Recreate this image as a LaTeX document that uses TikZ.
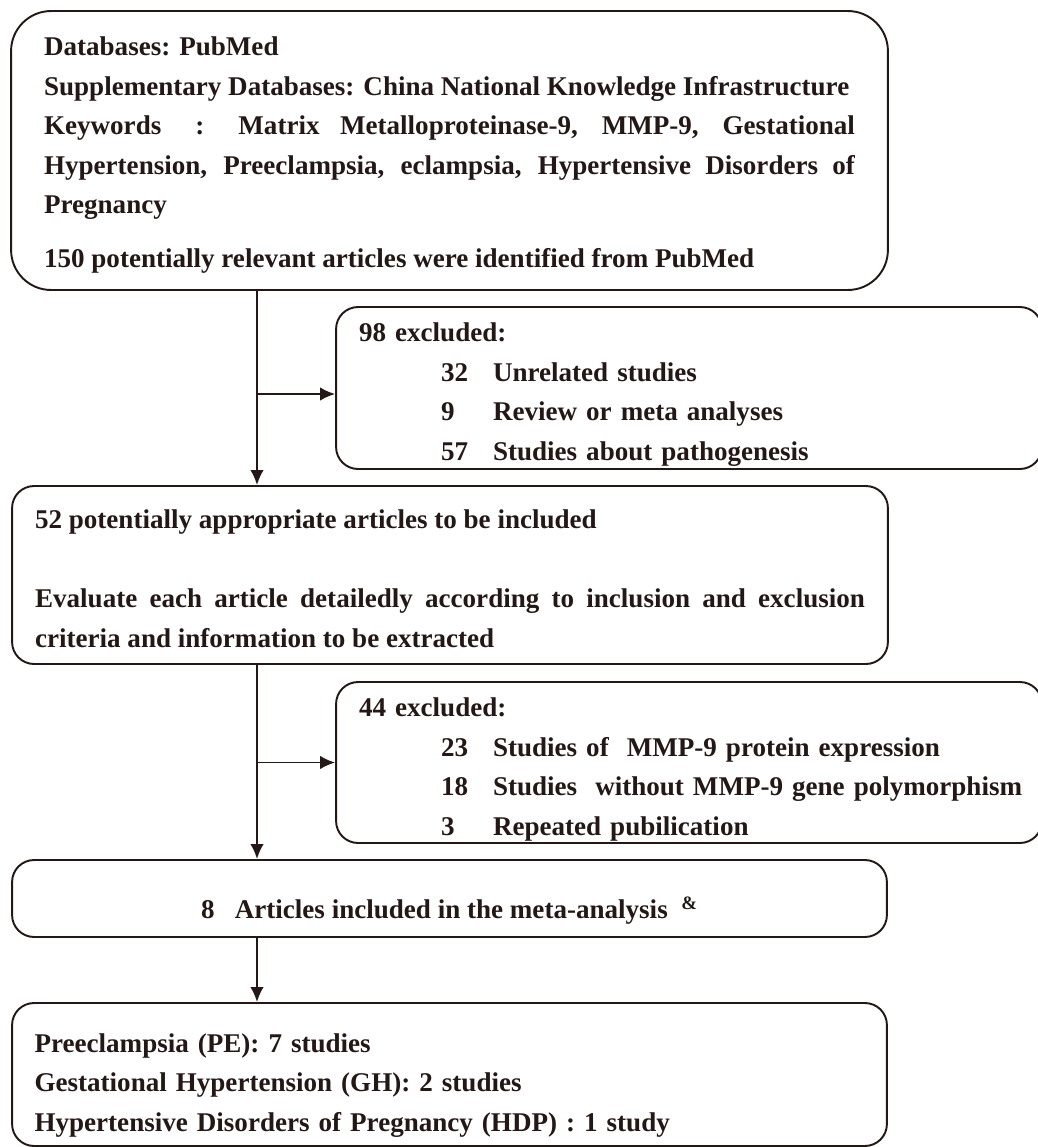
\documentclass[tikz,border=0pt]{standalone}
\usepackage{fontspec}
\setmainfont{Liberation Serif}
\usepackage{xcolor}
\usetikzlibrary{arrows.meta}
\definecolor{inkdark}{HTML}{231815}
\newcommand{\exitem}[2]{\hspace*{1.64cm}\makebox[1.04cm][l]{#1}\mbox{#2}}

\begin{document}
\begin{tikzpicture}[x=0.02cm, y=-0.02cm,
    every node/.style={font=\fontsize{15.4}{22.5}\selectfont\bfseries, text=inkdark},
    flowbox/.style={draw=inkdark, line width=1.1pt, rounded corners=0.44cm, inner sep=0pt},
    textdrop/.style={execute at begin node={\rule{0pt}{#1}}},
    arr/.style={draw=inkdark, line width=1.1pt, -{Latex[length=0.3cm,width=0.27cm]}}]
  \useasboundingbox (0,0) rectangle (1038,1147);

  % search strategy
  \node[flowbox, rounded corners=0.8cm, minimum width=17.54cm, minimum height=5.58cm,
        text width=16.22cm, align=justify, textdrop=16.1pt] (search) at (449.5,150.5)
    {Databases: PubMed\\
     Supplementary Databases: China National Knowledge Infrastructure\\
     Keywords~\enspace:~\enspace Matrix Metalloproteinase-9, MMP-9, Gestational\linebreak
     Hypertension, Preeclampsia, eclampsia, Hypertensive Disorders of\linebreak
     Pregnancy\\[8pt]
     150 potentially relevant articles were identified from PubMed};

  % first exclusion
  \node[flowbox, minimum width=14.12cm, minimum height=3.24cm,
        text width=13.2cm, align=left, textdrop=18.4pt] (exclA) at (689,388)
    {98 excluded:\\
     \exitem{32}{Unrelated studies}\\
     \exitem{9}{Review or meta analyses}\\
     \exitem{57}{Studies about pathogenesis}};

  % full-text screening
  \node[flowbox, minimum width=17.52cm, minimum height=3.56cm,
        text width=16.6cm, align=justify, textdrop=15pt] (screen) at (450,575)
    {52 potentially appropriate articles to be included\\[22.5pt]
     Evaluate each article detailedly according to inclusion and exclusion\linebreak
     criteria and information to be extracted};

  % second exclusion
  \node[flowbox, minimum width=14.12cm, minimum height=3.22cm,
        text width=13.2cm, align=left, textdrop=18.4pt] (exclB) at (689,762.5)
    {44 excluded:\\
     \exitem{23}{Studies of~~MMP-9 protein expression}\\
     \exitem{18}{Studies~~without MMP-9 gene polymorphism}\\
     \exitem{3}{Repeated pubilication}};

  \node[flowbox, minimum width=17.5cm, minimum height=1.54cm, align=center,
        textdrop=26pt] (included) at (449.5,898.5)
    {8\enspace~Articles included in the meta-analysis~~\textsuperscript{\&}};

  \node[flowbox, minimum width=17.5cm, minimum height=2.86cm,
        text width=16.6cm, align=left, textdrop=22.8pt] (subgroups) at (449.5,1074.5)
    {Preeclampsia (PE): 7 studies\\
     Gestational Hypertension (GH): 2 studies\\
     Hypertensive Disorders of Pregnancy (HDP) : 1 study};

  % connectors
  \coordinate (trunk) at (257,0);
  \draw[arr] (search.south -| trunk) -- (screen.north -| trunk);
  \draw[arr] ([yshift=-0.12cm]exclA.west -| trunk) -- ([yshift=-0.12cm]exclA.west);
  \draw[arr] (screen.south -| trunk) -- (included.north -| trunk);
  \draw[arr] (exclB.west -| trunk) -- (exclB.west);
  \draw[arr] (included.south -| trunk) -- (subgroups.north -| trunk);
\end{tikzpicture}
\end{document}
